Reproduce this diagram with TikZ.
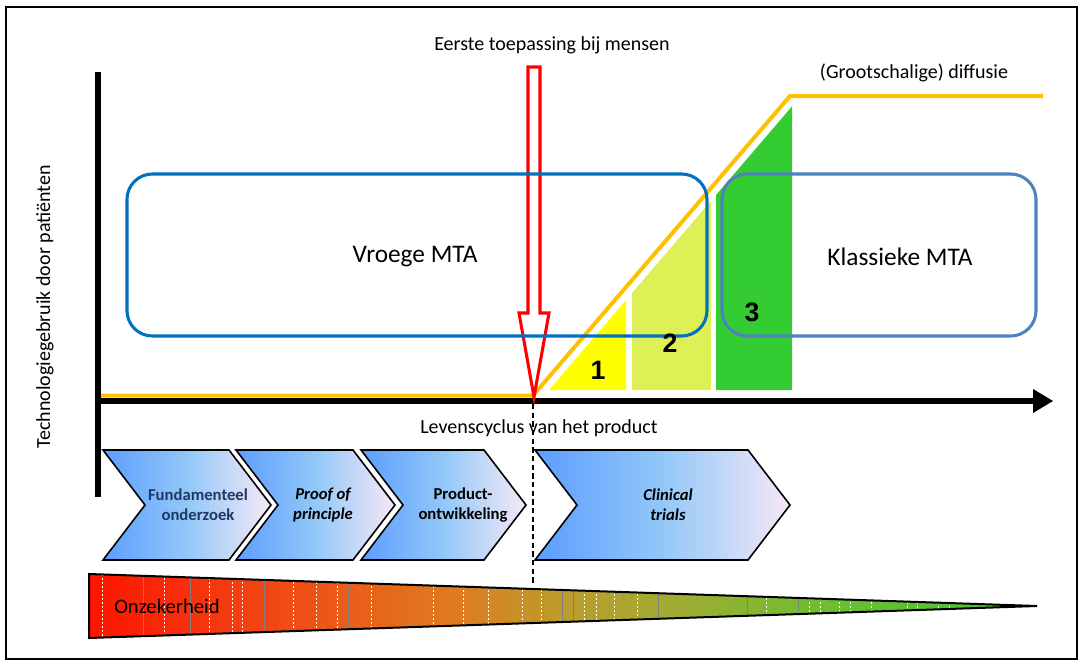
\documentclass[tikz,border=0pt]{standalone}
\usepackage{fontspec}
\setmainfont{Carlito}
\newfontfamily\numfont{Liberation Sans}
\definecolor{curveorange}{HTML}{FFC000}
\definecolor{phaseone}{HTML}{FFFF00}
\definecolor{phasetwo}{HTML}{DDF055}
\definecolor{phasethree}{HTML}{33CC33}
\definecolor{earlyblue}{HTML}{0070C0}
\definecolor{classicblue}{HTML}{4F81BD}
\definecolor{chevL}{HTML}{5C9DFF}
\definecolor{chevM}{HTML}{92C8F8}
\definecolor{chevR}{HTML}{F6E8F6}
\definecolor{darknavy}{HTML}{1F3864}
\definecolor{wA}{HTML}{FF1400}
\definecolor{wB}{HTML}{F43C12}
\definecolor{wC}{HTML}{E07A20}
\definecolor{wD}{HTML}{BC9C2C}
\definecolor{wE}{HTML}{A0AC34}
\definecolor{wF}{HTML}{6CBE30}
\definecolor{wG}{HTML}{48C430}
\pgfdeclarehorizontalshading{uncertainty}{100bp}{color(0bp)=(wA); color(25bp)=(wA); color(32.5bp)=(wB); color(44bp)=(wC); color(50bp)=(wD); color(56bp)=(wE); color(64bp)=(wF); color(75bp)=(wG); color(100bp)=(wG)}
\begin{document}
\begin{tikzpicture}[x=0.75pt,y=-0.75pt,
  lbl/.style={font=\fontsize{15}{18}\selectfont, inner sep=0pt},
  mta/.style={font=\fontsize{19}{22}\selectfont, inner sep=0pt},
  phasenum/.style={font=\numfont\bfseries\fontsize{20}{22}\selectfont, inner sep=0pt},
  chev/.style={draw=black, line width=1.2pt, left color=chevL, right color=chevR, middle color=chevM, line join=miter},
  chevtext/.style={font=\bfseries\fontsize{12.5}{15}\selectfont, align=center, inner sep=0pt},
  axisline/.style={line width=5pt, black},
  mtabox/.style={line width=2.3pt, rounded corners=19pt}
]
\useasboundingbox (0,0) rectangle (1082,664);
% frame
\draw[line width=1.6pt] (6,7) rectangle (1077,659);

% adoption phases under the curve
\fill[phaseone] (549,390) -- (626,390) -- (626,300.1) -- cycle;
\fill[phasetwo] (632,390) -- (711,390) -- (711,200.9) -- (632,293.1) -- cycle;
\fill[phasethree] (716,390) -- (792,390) -- (792,106.4) -- (716,195.1) -- cycle;

% axes
\draw[axisline] (98,72) -- (98,497);
\coordinate (xstart) at (98,401);
\coordinate (xend) at (1035,401);
\draw[line width=5.2pt] (xstart) -- (xend);
\fill (1033,389) -- (1053,401) -- (1033,413) -- cycle;

% technology use curve
\coordinate (c0) at (101,395.5);
\coordinate (c1) at (533,395.5);
\coordinate (c2) at (790,96);
\coordinate (c3) at (1043,96);
\draw[curveorange, line width=3pt, line join=miter] (c0) -- (c1) -- (c2) -- (c3);

% first use in humans marker
\coordinate (tip) at (534,397);
\draw[red, line width=2.3pt, line join=miter]
  (528,67) -- (540,67) -- (540,313) -- (549,313) -- (tip) -- (519,313) -- (528,313) -- cycle;

% MTA regions
\draw[mtabox, earlyblue] (127,174) rectangle (707,336);
\draw[mtabox, classicblue] (722,174) rectangle (1036,336);
\node[mta] (early) at (415,257) {Vroege MTA};
\node[mta] (classic) at (900,257) {Klassieke MTA};

\node[phasenum] (p1) at (598,370) {1};
\node[phasenum] (p2) at (670,343) {2};
\node[phasenum] (p3) at (752,312) {3};

% labels
\node[lbl] (first) at (552,45) {Eerste toepassing bij mensen};
\node[lbl] (diff) at (914,73) {(Grootschalige) diffusie};
\node[lbl] (life) at (539,428) {Levenscyclus van het product};
\node[lbl, rotate=90] (yl) at (45,307) {Technologiegebruik door patiënten};

% divider between pre-clinical and clinical phases
\coordinate (dtop) at (533,404);
\coordinate (dbot) at (533,583);
\draw[dashed, line width=1.1pt, dash pattern=on 4pt off 2.5pt] (dtop) -- (dbot);

% development stages
\draw[chev] (103,450) -- (229,450) -- (271,505) -- (229,560) -- (103,560) -- (145,505) -- cycle;
\draw[chev] (236,450) -- (353,450) -- (395,505) -- (353,560) -- (236,560) -- (278,505) -- cycle;
\draw[chev] (361,450) -- (484,450) -- (526,505) -- (484,560) -- (361,560) -- (403,505) -- cycle;
\draw[chev] (535,450) -- (748,450) -- (790,505) -- (748,560) -- (535,560) -- (577,505) -- cycle;
\node[chevtext, text=darknavy] (s1) at (198,505) {Fundamenteel\\onderzoek};
\node[chevtext] (s2) at (323,505) {\itshape Proof of\\\itshape principle};
\node[chevtext] (s3) at (463,505) {Product-\\ontwikkeling};
\node[chevtext] (s4) at (668,505) {\itshape Clinical\\\itshape trials};

% uncertainty wedge
\path[shading=uncertainty] (89,574) -- (1037,606) -- (89,638) -- cycle;
\begin{scope}
  \clip (89,574) -- (1037,606) -- (89,638) -- cycle;
  \foreach \xx in {143,190,264,348,562,573,658,747,798}
    \draw[gray, line width=0.6pt] (\xx,570) -- (\xx,642);
  \foreach \xx in {102,164,209,232,242,293,316,337,371,433,463,488,522,541,584,596,614,637,766,809,820,839,850,871,907,917,938,949}
    \draw[white, line width=0.7pt, dash pattern=on 1.5pt off 1.5pt] (\xx,570) -- (\xx,642);
\end{scope}
\draw[line width=1.5pt, line join=miter] (89,574) -- (1037,606) -- (89,638) -- cycle;
\node[lbl, font=\fontsize{15.5}{18}\selectfont] (unc) at (167,606) {Onzekerheid};
\end{tikzpicture}
\end{document}
